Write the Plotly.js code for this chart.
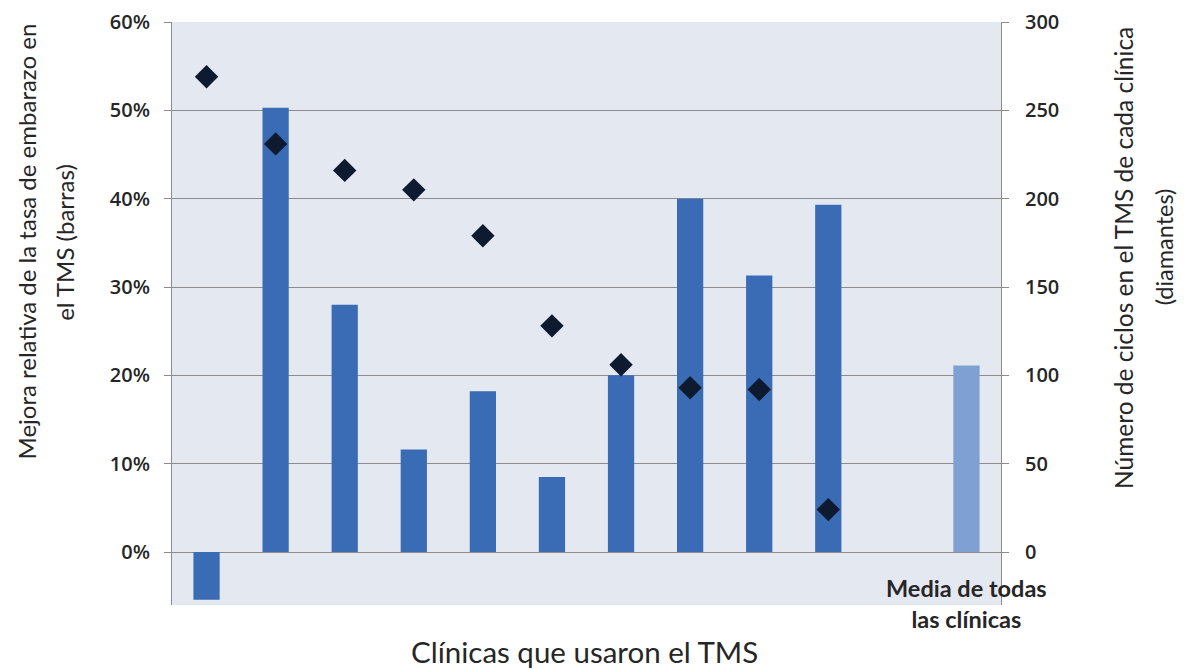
<!DOCTYPE html>
<html>
<head>
<meta charset="utf-8">
<script src="https://cdn.plot.ly/plotly-3.0.1.min.js"></script>
<style>
  html, body { margin: 0; padding: 0; background: #ffffff; }
  #chart { width: 1184px; height: 669px; }
</style>
</head>
<body>
<div id="chart"></div>
<script>
// Clinic positions along the x axis (slot 11 left empty, slot 12 = overall mean)
const clinicSlots = [1, 2, 3, 4, 5, 6, 7, 8, 9, 10];
const meanSlot = [12];

// Relative improvement of pregnancy rate with TMS, in percent (bars)
const improvementPct = [-5.4, 50.3, 28.0, 11.6, 18.2, 8.5, 20.0, 40.0, 31.3, 39.3];
const meanImprovementPct = [21.1];

// Number of TMS cycles per clinic (diamonds)
const cyclesPerClinic = [269, 231, 216, 205, 179, 128, 106, 93, 92, 24];

// Tick values for both y axes
const leftTicks = [0, 10, 20, 30, 40, 50, 60];
const rightTicks = [0, 50, 100, 150, 200, 250, 300];

const FONT = 'Lato, "Open Sans", sans-serif';
const TICKFONT = '"Open Sans", Lato, sans-serif';
const TEXT = '#262626';
const AXIS = '#8c8c8c';

const traces = [
  {
    type: 'bar',
    x: clinicSlots,
    y: improvementPct,
    width: 0.38,
    marker: { color: '#3a6cb6' },
    hoverinfo: 'y',
    showlegend: false
  },
  {
    type: 'bar',
    x: meanSlot,
    y: meanImprovementPct,
    width: 0.38,
    marker: { color: '#7ea0d2' },
    hoverinfo: 'y',
    showlegend: false
  },
  {
    type: 'scatter',
    mode: 'markers',
    x: clinicSlots,
    y: cyclesPerClinic,
    yaxis: 'y2',
    marker: { symbol: 'diamond', size: 18, color: '#0d1a30' },
    hoverinfo: 'y',
    showlegend: false
  }
];

// rotated axis-title line helper (paper coordinates)
function vLine(text, x, y, size) {
  return {
    text: text,
    xref: 'paper', yref: 'paper',
    x: x, y: y,
    xanchor: 'center', yanchor: 'middle',
    textangle: -90,
    showarrow: false,
    font: { family: FONT, size: size, color: TEXT }
  };
}

const layout = {
  width: 1184,
  height: 669,
  margin: { l: 172, r: 183, t: 22, b: 64 },
  paper_bgcolor: '#ffffff',
  plot_bgcolor: '#e4e8f1',
  font: { family: FONT, color: TEXT, size: 19 },
  barmode: 'overlay',
  xaxis: {
    range: [0.5, 12.5],
    showticklabels: false,
    ticks: '',
    showgrid: false,
    zeroline: false,
    showline: false
  },
  yaxis: {
    range: [-6, 60],
    tickvals: leftTicks,
    ticktext: leftTicks.map(v => v + '%'),
    tickfont: { family: TICKFONT, size: 20, color: TEXT, weight: 600 },
    ticks: 'outside',
    ticklen: 7,
    tickcolor: AXIS,
    showgrid: true,
    gridcolor: AXIS,
    gridwidth: 1,
    zeroline: true,
    zerolinecolor: AXIS,
    zerolinewidth: 1,
    showline: true,
    linecolor: AXIS,
    linewidth: 1,
    ticklabelstandoff: 10
  },
  yaxis2: {
    overlaying: 'y',
    side: 'right',
    range: [-30, 300],
    tickvals: rightTicks,
    tickfont: { family: TICKFONT, size: 20, color: TEXT, weight: 600 },
    ticks: 'outside',
    ticklen: 7,
    tickcolor: AXIS,
    showgrid: false,
    zeroline: false,
    showline: true,
    linecolor: AXIS,
    linewidth: 1,
    ticklabelstandoff: 12
  },
  annotations: [
    vLine('Mejora relativa de la tasa de embarazo en', -0.1755, 0.6226, 24),
    vLine('el TMS (barras)', -0.1305, 0.6226, 24),
    vLine('Número de ciclos en el TMS de cada clínica', 1.147, 0.595, 24.5),
    vLine('(diamantes)', 1.197, 0.614, 23.5),
    {
      text: 'Clínicas que usaron el TMS',
      xref: 'paper', yref: 'paper',
      x: 0.498, y: -0.08,
      xanchor: 'center', yanchor: 'middle',
      showarrow: false,
      font: { family: FONT, size: 29.5, color: TEXT }
    },
    {
      text: '<b>Media de todas<br>las clínicas</b>',
      xref: 'x', yref: 'y',
      x: 12, y: -5.8,
      xanchor: 'center', yanchor: 'middle',
      align: 'center',
      showarrow: false,
      font: { family: FONT, size: 23.5, color: TEXT }
    }
  ]
};

Plotly.newPlot('chart', traces, layout, { displayModeBar: false, staticPlot: true });
</script>
</body>
</html>
